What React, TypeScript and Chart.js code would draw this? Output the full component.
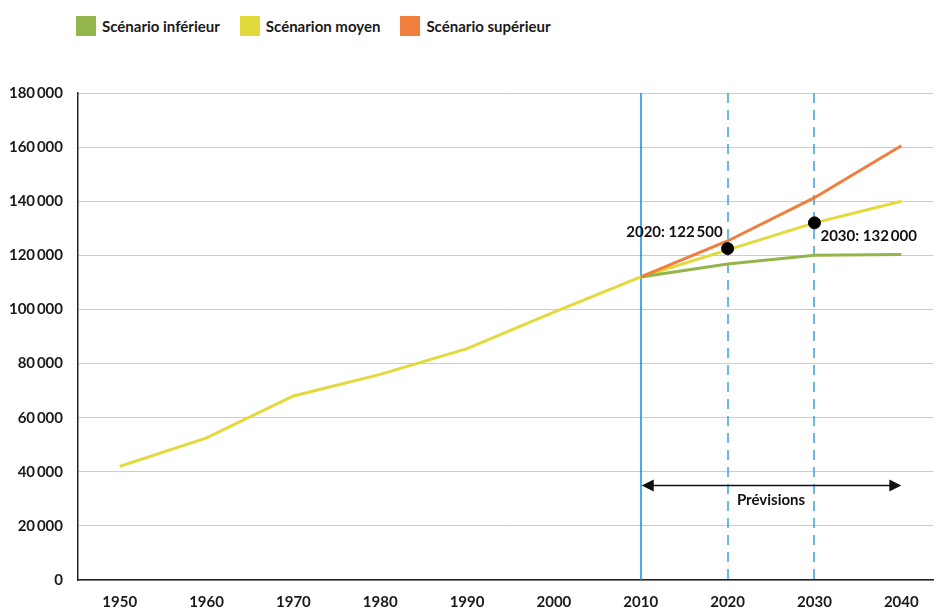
import React, { useEffect, useRef } from "react";
import { Chart, registerables } from "chart.js";

Chart.register(...registerables);

const years = [1950, 1960, 1970, 1980, 1990, 2000, 2010, 2020, 2030, 2040];
const moyen = [42000, 52500, 68000, 76000, 85500, 99000, 112000, 122000, 132000, 140000];
const inferieurYears = [2010, 2020, 2030, 2040];
const inferieur = [112000, 116800, 120000, 120300];
const superieur = [112000, 125300, 141300, 160500];
const markerYears = [2020, 2030];
const markerValues = [122500, 132000];
const markerLabels = ["2020: 122\u2009500", "2030: 132\u2009000"];
const yTicks = [0, 20000, 40000, 60000, 80000, 100000, 120000, 140000, 160000, 180000];
const legendItems = [
  { label: "Scénario inférieur", color: "#94b44c" },
  { label: "Scénarion moyen", color: "#e2d93a" },
  { label: "Scénario supérieur", color: "#f07e3c" },
];
const forecastStart = 2010;
const forecastEnd = 2040;
const dashedYears = [2020, 2030];
const arrowValue = 35000;
const forecastLabel = "Prévisions";

const FONT = "Lato, 'Open Sans', sans-serif";
const FS = 15;

function fmt(v: number) {
  const s = String(v);
  return s.length > 3 ? s.slice(0, s.length - 3) + "\u2009" + s.slice(s.length - 3) : s;
}

const overlay = {
  id: "overlay",
  beforeDatasetsDraw(chart: any) {
    const { ctx, chartArea, scales } = chart;
    const x = scales.x;
    ctx.save();
    ctx.strokeStyle = "#0a90e2";
    ctx.lineWidth = 1.5;
    ctx.beginPath();
    const x0 = Math.round(x.getPixelForValue(forecastStart));
    ctx.moveTo(x0, chartArea.top);
    ctx.lineTo(x0, chartArea.bottom);
    ctx.stroke();
    ctx.strokeStyle = "#3aa3dc";
    ctx.lineWidth = 1.5;
    ctx.setLineDash([10, 7]);
    dashedYears.forEach((yr) => {
      const xp = Math.round(x.getPixelForValue(yr));
      ctx.beginPath();
      ctx.moveTo(xp, chartArea.top);
      ctx.lineTo(xp, chartArea.bottom);
      ctx.stroke();
    });
    ctx.restore();
  },
  afterDatasetsDraw(chart: any) {
    const { ctx, scales } = chart;
    const x = scales.x;
    const y = scales.y;
    ctx.save();
    const ay = Math.round(y.getPixelForValue(arrowValue)) + 0.5;
    const xa = x.getPixelForValue(forecastStart);
    const xb = x.getPixelForValue(forecastEnd);
    ctx.strokeStyle = "#111";
    ctx.fillStyle = "#111";
    ctx.lineWidth = 1.5;
    ctx.beginPath();
    ctx.moveTo(xa + 10, ay);
    ctx.lineTo(xb - 10, ay);
    ctx.stroke();
    ctx.beginPath();
    ctx.moveTo(xa + 1, ay);
    ctx.lineTo(xa + 13, ay - 6);
    ctx.lineTo(xa + 13, ay + 6);
    ctx.closePath();
    ctx.fill();
    ctx.beginPath();
    ctx.moveTo(xb, ay);
    ctx.lineTo(xb - 12, ay - 6);
    ctx.lineTo(xb - 12, ay + 6);
    ctx.closePath();
    ctx.fill();
    ctx.font = `bold ${FS}px ${FONT}`;
    ctx.textAlign = "center";
    ctx.textBaseline = "middle";
    ctx.fillText(forecastLabel, (xa + xb) / 2, ay + 15);
    markerYears.forEach((yr, i) => {
      const px = x.getPixelForValue(yr);
      const py = y.getPixelForValue(markerValues[i]);
      if (i === 0) {
        ctx.textAlign = "right";
        ctx.fillText(markerLabels[i], px - 5, py - 16);
      } else {
        ctx.textAlign = "left";
        ctx.fillText(markerLabels[i], px + 6, py + 13);
      }
    });
    ctx.restore();
  },
};

export default function App() {
  const ref = useRef<HTMLCanvasElement>(null);
  useEffect(() => {
    if (!ref.current) return;
    const chart = new Chart(ref.current, {
      type: "line",
      data: {
        datasets: [
          {
            label: "Scénarion moyen",
            data: years.map((yr, i) => ({ x: yr, y: moyen[i] })),
            borderColor: "#e2d93a",
            borderWidth: 3,
            pointRadius: 0,
            tension: 0,
            order: 3,
          },
          {
            label: "Scénario inférieur",
            data: inferieurYears.map((yr, i) => ({ x: yr, y: inferieur[i] })),
            borderColor: "#94b44c",
            borderWidth: 3,
            pointRadius: 0,
            tension: 0,
            order: 2,
          },
          {
            label: "Scénario supérieur",
            data: inferieurYears.map((yr, i) => ({ x: yr, y: superieur[i] })),
            borderColor: "#f07e3c",
            borderWidth: 3,
            pointRadius: 0,
            tension: 0,
            order: 1,
          },
          {
            type: "scatter" as any,
            label: "points",
            data: markerYears.map((yr, i) => ({ x: yr, y: markerValues[i] })),
            backgroundColor: "#000",
            borderColor: "#000",
            pointRadius: 6,
            order: 0,
          },
        ],
      },
      options: {
        animation: false,
        responsive: false,
        maintainAspectRatio: false,
        layout: { padding: { top: 93, left: 0, right: 0, bottom: 0 } },
        plugins: { legend: { display: false }, tooltip: { enabled: false } },
        scales: {
          x: {
            type: "linear",
            min: 1945.2,
            max: 2043.65,
            afterBuildTicks: (s: any) => {
              s.ticks = years.map((v) => ({ value: v }));
            },
            afterFit: (s: any) => {
              s.height = 33;
            },
            grid: { display: false, drawTicks: false },
            border: { display: true, color: "#222", width: 1.5 },
            ticks: {
              padding: 13,
              color: "#1a1a1a",
              font: { family: FONT, size: FS, weight: "bold" },
              callback: (v: any) => String(v),
              maxRotation: 0,
              autoSkip: false,
            },
          },
          y: {
            min: 0,
            max: 180000,
            afterBuildTicks: (s: any) => {
              s.ticks = yTicks.map((v) => ({ value: v }));
            },
            afterFit: (s: any) => {
              s.width = 78;
            },
            grid: { color: "#cccccc", lineWidth: 1, drawTicks: false },
            border: { display: true, color: "#222", width: 1.5 },
            ticks: {
              padding: 15,
              color: "#1a1a1a",
              font: { family: FONT, size: FS, weight: "bold" },
              callback: (v: any) => fmt(v),
            },
          },
        },
      },
      plugins: [overlay],
    });
    return () => chart.destroy();
  }, []);

  return (
    <div style={{ position: "fixed", left: 0, top: 0, width: 940, height: 613, background: "#fff" }}>
      <div
        style={{
          position: "absolute",
          left: 76,
          top: 16,
          display: "flex",
          alignItems: "center",
          fontFamily: FONT,
          fontWeight: "bold",
          fontSize: FS,
          color: "#1a1a1a",
        }}
      >
        {legendItems.map((it, i) => (
          <div key={i} style={{ display: "flex", alignItems: "center", marginRight: 20 }}>
            <span style={{ display: "inline-block", width: 20, height: 20, background: it.color, marginRight: 6 }} />
            <span>{it.label}</span>
          </div>
        ))}
      </div>
      <canvas ref={ref} width={940} height={613} style={{ position: "absolute", left: 0, top: 0 }} />
    </div>
  );
}
